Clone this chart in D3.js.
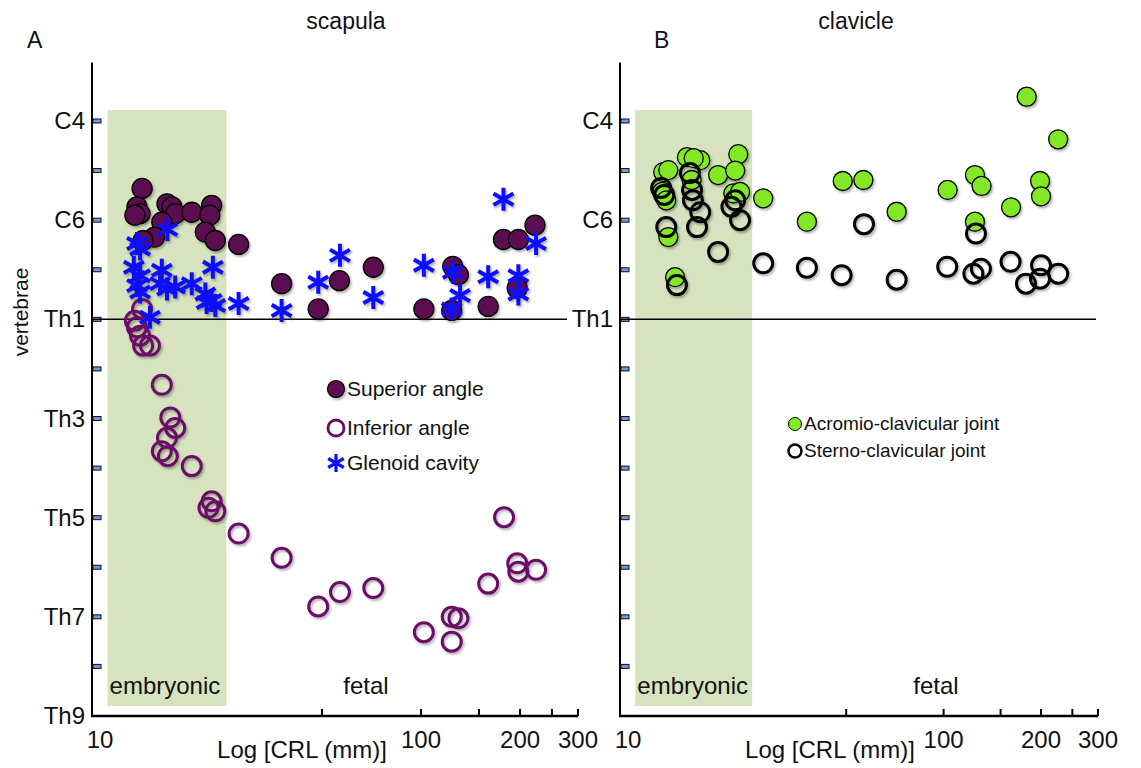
<!DOCTYPE html>
<html lang="en">
<head>
<meta charset="UTF-8">
<script src="https://d3js.org/d3.v7.min.js"></script>
<title>scapula / clavicle</title>
<style>
  body { margin: 0; background: #fff; }
  svg text { font-family: "Liberation Sans", Arial, sans-serif; fill: #111; }
</style>
</head>
<body>
<div id="chart"></div>
<script>
// [CRL mm, vertebral level] ; level: C1=1 .. C7=7, Th1=8 .. Th9=16
const superiorAngle = [
  [14.2,5.36],[13.7,5.73],[14.0,5.87],[13.5,5.9],[16.9,5.67],[17.5,5.73],[17.9,5.87],[16.3,6.04],
  [15.5,6.34],[14.3,6.41],[20.1,5.84],[23.1,5.70],[22.8,5.90],[22.1,6.24],[23.7,6.41],[27.9,6.49],
  [37.7,7.28],[48.7,7.79],[56.5,7.22],[71.6,6.95],[102,7.79],[124.9,6.93],[129.9,7.10],[124,7.82],
  [160,7.74],[178,6.39],[197.6,6.39],[222,6.10],[196,7.37]
];
const inferiorAngle = [
  [14.2,7.79],[13.5,8.03],[13.7,8.16],[14.0,8.33],[14.3,8.53],[15.0,8.53],[16.3,9.32],[17.3,9.98],
  [17.9,10.19],[16.9,10.39],[16.3,10.66],[17.0,10.76],[20.1,10.96],[23.1,11.67],[22.6,11.80],[23.7,11.87],
  [27.9,12.32],[37.7,12.81],[48.7,13.79],[56.7,13.50],[71.6,13.42],[102,14.31],[124,14.0],[129.9,14.03],
  [124,14.50],[160,13.33],[178.8,11.99],[196,12.92],[197.6,13.09],[223.7,13.05]
];
const glenoidCavity = [
  [27.9,7.68],[37.7,7.82],[48.7,7.25],[56.7,6.71],[71.6,7.56],[102,6.91],[124.9,7.05],[131.4,7.52],
  [124,7.79],[160,7.14],[178,5.58],[197.6,7.12],[197.6,7.49],[223.7,6.47],[16.95,6.19],[13.7,6.47],
  [14.0,6.58],[13.4,6.95],[14.0,7.12],[16.3,7.01],[13.7,7.32],[16.1,7.28],[16.9,7.39],[17.9,7.35],
  [20.1,7.28],[23.3,6.95],[22.1,7.49],[23.1,7.62],[23.7,7.72],[22.3,7.66],[15.0,7.96],[14.0,7.45]
];
const acromioClavicular = [
  [13.6,5.03],[14.1,4.99],[13.5,5.43],[13.9,5.60],[16.1,4.73],[17.7,4.79],[16.9,4.75],[16.65,5.19],
  [20.1,5.09],[23.2,4.67],[22.7,5.00],[22.4,5.46],[23.5,5.43],[27.7,5.56],[14.1,6.34],[14.8,7.15],
  [37.8,6.03],[48.8,5.21],[56.5,5.19],[71.6,5.83],[102.9,5.39],[125,5.09],[131,5.31],[125,6.03],
  [161.6,5.74],[180.6,3.51],[198.6,5.21],[200,5.52],[226,4.37]
];
const sternoClavicular = [
  [16.45,5.05],[13.4,5.35],[13.7,5.49],[16.7,5.39],[16.8,5.60],[17.7,5.84],[17.3,6.14],[13.9,6.14],
  [22.7,5.60],[22.1,5.73],[23.5,6.00],[20.1,6.64],[27.7,6.87],[37.8,6.96],[15.0,7.31],[48.4,7.11],
  [56.75,6.08],[71.6,7.20],[102.6,6.94],[125.9,6.27],[123.6,7.08],[130.4,6.98],[161,6.84],[179.7,7.28],
  [200,6.91],[198.6,7.18],[226,7.08]
];

const xTicks = [10, 50, 100, 150, 200, 250, 300];
const xTickLabels = [10, 100, 200, 300];
const levelTicks = [4,5,6,7,8,9,10,11,12,13,14,15];
const levelNamesA = {4:"C4", 6:"C6", 8:"Th1", 10:"Th3", 12:"Th5", 14:"Th7", 16:"Th9"};
const levelNamesB = {4:"C4", 6:"C6", 8:"Th1"};
const embryonicRange = [11.15, 25.6];
const levelRange = [2.82, 16];

const svg = d3.select("#chart").append("svg")
  .attr("width", 1141).attr("height", 768);

const defs = svg.append("defs");
const f = defs.append("filter").attr("id", "shadow")
  .attr("x", "-50%").attr("y", "-50%").attr("width", "200%").attr("height", "200%");
f.append("feDropShadow").attr("dx", 1.5).attr("dy", 2).attr("stdDeviation", 1.2)
  .attr("flood-color", "#000").attr("flood-opacity", 0.3);

const y = d3.scaleLinear().domain([4, 16]).range([121, 716]);

const asterisk = s => {
  const a = Math.sin(Math.PI / 3) * s, b = Math.cos(Math.PI / 3) * s;
  return `M0,${-s}L0,${s}M${-a},${-b}L${a},${b}M${-a},${b}L${a},${-b}`;
};

function panel(x, names, lineEnd) {
  const g = svg.append("g");
  const x0 = x.range()[0], x1 = x.range()[1];

  g.append("rect")
    .attr("x", x(embryonicRange[0])).attr("y", y(3.78))
    .attr("width", x(embryonicRange[1]) - x(embryonicRange[0]))
    .attr("height", y(15.8) - y(3.78))
    .attr("fill", "#d6e3be");

  // y axis
  g.append("line").attr("x1", x0).attr("x2", x0)
    .attr("y1", y(levelRange[0])).attr("y2", y(levelRange[1]))
    .attr("stroke", "#000").attr("stroke-width", 2);
  g.selectAll(".yt").data(levelTicks).enter().append("rect")
    .attr("x", x0 + 1).attr("y", d => y(d) - 2)
    .attr("width", 8).attr("height", 4)
    .attr("fill", "#6f9ad6").attr("stroke", "#111").attr("stroke-width", 1);
  g.selectAll(".yl").data(Object.keys(names)).enter().append("text")
    .attr("x", x0 - 7).attr("y", d => y(+d) + 8)
    .attr("text-anchor", "end").attr("font-size", 24)
    .text(d => names[d]);

  // x axis
  g.append("line").attr("x1", x0 - 1).attr("x2", x1)
    .attr("y1", y(16)).attr("y2", y(16))
    .attr("stroke", "#000").attr("stroke-width", 2.5);
  g.selectAll(".xt").data(xTicks).enter().append("line")
    .attr("x1", d => x(d)).attr("x2", d => x(d))
    .attr("y1", y(16)).attr("y2", y(16) - 7)
    .attr("stroke", "#000").attr("stroke-width", 2);
  g.selectAll(".xl").data(xTickLabels).enter().append("text")
    .attr("x", d => x(d) + (d === 10 ? 8 : 0)).attr("y", 748)
    .attr("text-anchor", "middle").attr("font-size", 24)
    .text(d => d);
  g.append("text").attr("x", x(10) + 210).attr("y", 758)
    .attr("text-anchor", "middle").attr("font-size", 24)
    .text("Log [CRL (mm)]");

  // Th1 line
  g.append("line").attr("x1", x0).attr("x2", lineEnd)
    .attr("y1", y(8)).attr("y2", y(8))
    .attr("stroke", "#000").attr("stroke-width", 1.5);

  g.append("text").attr("x", x(embryonicRange[0]) + 2).attr("y", 694)
    .attr("font-size", 24).text("embryonic");
  return g;
}

// ---- A: scapula
const xA = d3.scaleLog().domain([10, 300]).range([92, 578]);
const gA = panel(xA, levelNamesA, 567);
gA.append("text").attr("x", 366).attr("y", 694).attr("text-anchor", "middle")
  .attr("font-size", 24).text("fetal");

const mA = svg.append("g").attr("filter", "url(#shadow)");
mA.selectAll(".sup").data(superiorAngle).enter().append("circle")
  .attr("cx", d => xA(d[0])).attr("cy", d => y(d[1])).attr("r", 10)
  .attr("fill", "#5b0c50").attr("stroke", "#000").attr("stroke-width", 1.3);
mA.selectAll(".inf").data(inferiorAngle).enter().append("circle")
  .attr("cx", d => xA(d[0])).attr("cy", d => y(d[1])).attr("r", 9.5)
  .attr("fill", "none").attr("stroke", "#6a0b66").attr("stroke-width", 3);
mA.selectAll(".gle").data(glenoidCavity).enter().append("path")
  .attr("transform", d => `translate(${xA(d[0])},${y(d[1])})`)
  .attr("d", asterisk(11.5))
  .attr("fill", "none").attr("stroke", "#1010ff").attr("stroke-width", 4);

const legA = svg.append("g");
legA.append("circle").attr("cx", 336).attr("cy", 389).attr("r", 8.5)
  .attr("fill", "#5b0c50").attr("stroke", "#000").attr("stroke-width", 1.2)
  .attr("filter", "url(#shadow)");
legA.append("circle").attr("cx", 336).attr("cy", 428).attr("r", 8)
  .attr("fill", "none").attr("stroke", "#6a0b66").attr("stroke-width", 2.8);
legA.append("path").attr("transform", "translate(336,463)").attr("d", asterisk(9))
  .attr("fill", "none").attr("stroke", "#1010ff").attr("stroke-width", 3.2);
[["Superior angle", 389], ["Inferior angle", 428], ["Glenoid cavity", 463]].forEach(t => {
  legA.append("text").attr("x", 347).attr("y", t[1] + 7).attr("font-size", 21).text(t[0]);
});

// ---- B: clavicle
const xB = d3.scaleLog().domain([10, 300]).range([620, 1098]);
const gB = panel(xB, levelNamesB, 1096);
gB.append("text").attr("x", 936).attr("y", 694).attr("text-anchor", "middle")
  .attr("font-size", 24).text("fetal");

const mB = svg.append("g").attr("filter", "url(#shadow)");
mB.selectAll(".acr").data(acromioClavicular).enter().append("circle")
  .attr("cx", d => xB(d[0])).attr("cy", d => y(d[1])).attr("r", 9.5)
  .attr("fill", "#82e827").attr("stroke", "#000").attr("stroke-width", 1.3);
mB.selectAll(".ste").data(sternoClavicular).enter().append("circle")
  .attr("cx", d => xB(d[0])).attr("cy", d => y(d[1])).attr("r", 9.5)
  .attr("fill", "none").attr("stroke", "#000").attr("stroke-width", 3);

const legB = svg.append("g");
legB.append("circle").attr("cx", 795).attr("cy", 424).attr("r", 6.5)
  .attr("fill", "#82e827").attr("stroke", "#000").attr("stroke-width", 1);
legB.append("circle").attr("cx", 795).attr("cy", 451).attr("r", 6.5)
  .attr("fill", "none").attr("stroke", "#000").attr("stroke-width", 2.5);
[["Acromio-clavicular joint", 424], ["Sterno-clavicular joint", 451]].forEach(t => {
  legB.append("text").attr("x", 804).attr("y", t[1] + 6).attr("font-size", 19).text(t[0]);
});

// titles
svg.append("text").attr("x", 346).attr("y", 29).attr("text-anchor", "middle")
  .attr("font-size", 23).text("scapula");
svg.append("text").attr("x", 856).attr("y", 29).attr("text-anchor", "middle")
  .attr("font-size", 23).text("clavicle");
svg.append("text").attr("x", 27).attr("y", 48).attr("font-size", 23).text("A");
svg.append("text").attr("x", 654).attr("y", 48).attr("font-size", 23).text("B");
svg.append("text").attr("transform", "translate(28,312) rotate(-90)")
  .attr("text-anchor", "middle").attr("font-size", 21).text("vertebrae");
</script>
</body>
</html>
